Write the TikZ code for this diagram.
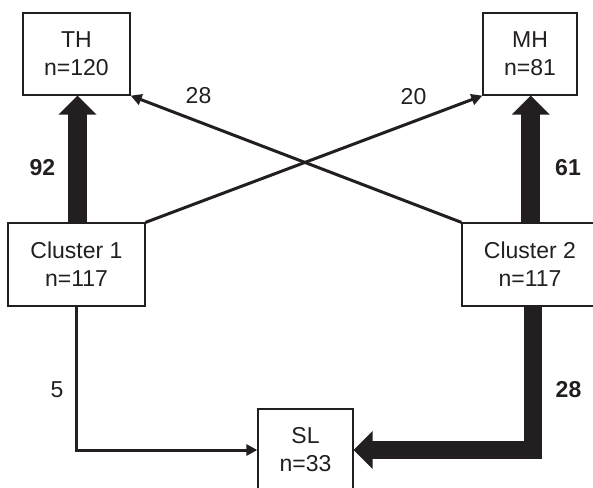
\documentclass[tikz,border=0pt]{standalone}
\usepackage{fontspec}
\setmainfont{Liberation Sans}
\usetikzlibrary{arrows.meta}
\definecolor{ink}{RGB}{35,31,32}
\begin{document}
\begin{tikzpicture}[x=1pt,y=-1pt,
  box/.style={draw=ink,line width=1.3pt,fill=white,align=center,inner sep=0pt,
    font=\fontsize{23}{28}\selectfont,text=ink},
  lbl/.style={inner sep=0pt,font=\fontsize{23}{28}\selectfont,text=ink},
  blbl/.style={lbl,font=\fontsize{23}{28}\selectfont\bfseries},
  thin/.style={draw=ink,line width=3pt,-{Triangle[length=11pt,width=11pt]}},
  thick/.style={draw=ink,line width=18.5pt,line join=miter,-{Triangle[length=19pt,width=37pt]}}
]
\clip (0,0) rectangle (593,487);
\fill[white] (0,0) rectangle (593,487);
\node[box,minimum width=107pt,minimum height=82pt] (th) at (76.5,54) {TH\\n=120};
\node[box,minimum width=94pt,minimum height=82pt] (mh) at (530,54) {MH\\n=81};
\node[box,minimum width=137pt,minimum height=83pt] (c1) at (76.5,264.5) {Cluster 1\\n=117};
\node[box,minimum width=136pt,minimum height=83pt] (c2) at (530,264.5) {Cluster 2\\n=117};
\node[box,minimum width=95pt,minimum height=82pt] (sl) at (305.5,450) {SL\\n=33};
\draw[thick] ([xshift=1pt]c1.north) -- ([xshift=1pt]th.south);
\draw[thick] ([xshift=0.7pt]c2.north) -- ([xshift=0.7pt]mh.south);
\draw[thick] ([xshift=3pt]c2.south) |- (sl.east);
\draw[thin] (c2.north west) -- (th.south east);
\draw[thin] (c1.north east) -- (mh.south west);
\draw[thin] (c1.south) |- (sl.west);
\node[lbl] (l28a) at (198.5,96) {28};
\node[lbl] (l20) at (413.5,96.5) {20};
\node[blbl] (l92) at (42.5,167.5) {92};
\node[blbl] (l61) at (568,167.5) {61};
\node[lbl] (l5) at (57,390) {5};
\node[blbl] (l28b) at (568.5,390) {28};
\end{tikzpicture}
\end{document}
